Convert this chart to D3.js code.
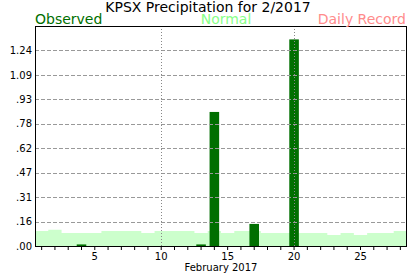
<!DOCTYPE html>
<html>
<head>
<meta charset="utf-8">
<script src="https://cdn.jsdelivr.net/npm/d3@7"></script>
<style>
  html, body { margin: 0; padding: 0; background: #fff; }
  svg { display: block; font-family: "DejaVu Sans", Verdana, sans-serif; }
</style>
</head>
<body>
<svg id="chart" width="417" height="276"></svg>
<script>
// ---- data ----
const days = d3.range(1, 29);
const observed = [0,0,0,0.01,0,0,0,0,0,0,0,0,0.01,0.85,0,0,0.14,0,0,1.31,0,0,0,0,0,0,0,0];
const normal = [0.095,0.103,0.082,0.082,0.082,0.095,0.095,0.095,0.082,0.095,0.095,0.095,0.082,0.095,0.082,0.095,0.095,0.082,0.082,0.082,0.082,0.082,0.07,0.082,0.07,0.082,0.082,0.095];
const yTickValues = [0, 0.155, 0.31, 0.465, 0.62, 0.775, 0.93, 1.085, 1.24];
const yTickLabels = [".00", ".16", ".31", ".47", ".62", ".78", ".93", "1.09", "1.24"];
const xTickLabels = [5, 10, 15, 20, 25];
const xGridDays = [10, 20];
const yMax = 1.395;
const titleText = "KPSX Precipitation for 2/2017";
const xTitle = "February 2017";
const legend = [
  { label: "Observed", color: "#006f00", anchor: "start" },
  { label: "Normal", color: "#88ff88", anchor: "middle" },
  { label: "Daily Record", color: "#ff8c8c", anchor: "end" }
];

// ---- layout ----
const L = 35, R = 407, T = 26, B = 246;
const svg = d3.select("#chart");

const x = d3.scaleBand().domain(days).range([L, R]).paddingInner(0.28).paddingOuter(0.14);
const xl = d3.scaleLinear().domain([0.5, 28.5]).range([L, R]);
const y = d3.scaleLinear().domain([0, yMax]).range([B, T]);

// normal stepped area
const stepPts = [];
days.forEach((d, i) => {
  stepPts.push([d - 0.5, normal[i]]);
  stepPts.push([d + 0.5, normal[i]]);
});
svg.append("path")
  .datum(stepPts)
  .attr("fill", "#ccffcc")
  .attr("d", d3.area().x(p => xl(p[0])).y0(y(0)).y1(p => y(p[1])));

// observed bars
svg.append("g").selectAll("rect")
  .data(days.map((d, i) => ({ d, v: observed[i] })).filter(o => o.v > 0))
  .join("rect")
  .attr("x", o => x(o.d))
  .attr("width", x.bandwidth())
  .attr("y", o => y(o.v))
  .attr("height", o => y(0) - y(o.v))
  .attr("fill", "#006f00");

// horizontal gridlines
svg.append("g").selectAll("line")
  .data(yTickValues.filter(v => v > 0))
  .join("line")
  .attr("x1", L).attr("x2", R)
  .attr("y1", v => Math.round(y(v)) + 0.5).attr("y2", v => Math.round(y(v)) + 0.5)
  .attr("stroke", "#999").attr("stroke-dasharray", "4,2");

// vertical gridlines
svg.append("g").selectAll("line")
  .data(xGridDays)
  .join("line")
  .attr("x1", d => Math.round(x(d) + x.bandwidth() / 2) + 0.5)
  .attr("x2", d => Math.round(x(d) + x.bandwidth() / 2) + 0.5)
  .attr("y1", T).attr("y2", B)
  .attr("stroke", "#888").attr("stroke-dasharray", "1,2");

// y axis labels
const yAxis = d3.axisLeft(y)
  .tickValues(yTickValues)
  .tickSize(0)
  .tickPadding(3)
  .tickFormat((v, i) => yTickLabels[i]);
const gy = svg.append("g").attr("transform", `translate(${L},0)`).call(yAxis);
gy.select(".domain").remove();
gy.selectAll("text").attr("font-family", "DejaVu Sans").attr("font-size", 10).attr("fill", "#000");

// x axis
const xAxis = d3.axisBottom(x)
  .tickSize(4)
  .tickPadding(3)
  .tickFormat(d => xTickLabels.includes(d) ? d : "");
const gx = svg.append("g").attr("transform", `translate(0,${B})`).call(xAxis);
gx.select(".domain").remove();
gx.selectAll("line").attr("stroke", "#000");
gx.selectAll("text").attr("font-family", "DejaVu Sans").attr("font-size", 10).attr("fill", "#000");

// frame
svg.append("rect")
  .attr("x", L + 0.5).attr("y", T + 0.5)
  .attr("width", R - L - 1).attr("height", B - T)
  .attr("fill", "none").attr("stroke", "#000");

// x title
svg.append("text")
  .attr("x", (L + R) / 2).attr("y", 271)
  .attr("text-anchor", "middle")
  .attr("font-size", 10)
  .text(xTitle);

// title
svg.append("text")
  .attr("x", 208).attr("y", 12)
  .attr("text-anchor", "middle")
  .attr("font-size", 14)
  .text(titleText);

// legend
const legX = { start: L, middle: 226, end: R - 1 };
svg.append("g").selectAll("text")
  .data(legend)
  .join("text")
  .attr("x", d => legX[d.anchor])
  .attr("y", 24)
  .attr("text-anchor", d => d.anchor)
  .attr("font-size", 14)
  .attr("fill", d => d.color)
  .text(d => d.label);
</script>
</body>
</html>
